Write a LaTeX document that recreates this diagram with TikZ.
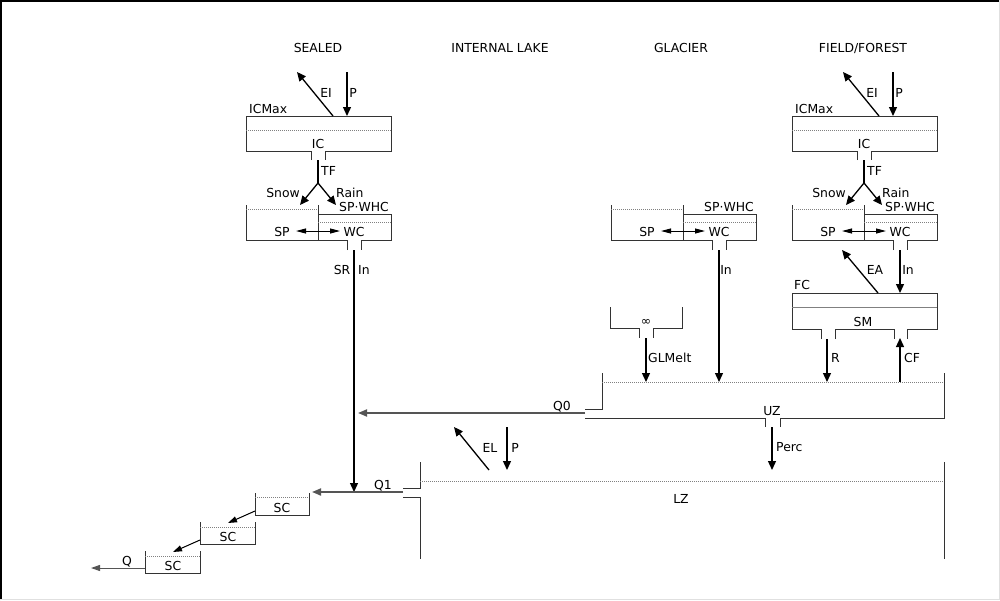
\documentclass[tikz,border=0pt]{standalone}
\usepackage{fontspec}
\setmainfont{DejaVu Sans}
\usetikzlibrary{
  arrows.meta,
  positioning,
  calc
}
\definecolor{wall}{HTML}{333333}
\definecolor{level}{HTML}{808080}
\definecolor{flowgray}{HTML}{555555}
\tikzset{
  base/.style={
    text=black,
    font=\fontsize{12.4}{14}\selectfont,
    inner sep=0pt,
  },
  wall/.style={
    draw=wall,
    line width=1pt,
  },
  level/.style={
    draw=level,
    line width=0.8pt,
    dash pattern=on 1pt off 1pt,
  },
  flux/.style={
    -{Triangle[length=9pt, width=8pt]},
    line width=1.3pt,
    draw=black,
  },
  fluxthin/.style={
    -{Triangle[length=9pt, width=6pt]},
    line width=1pt,
    draw=black,
  },
  fluxboth/.style={
    {Triangle[length=10pt, width=5pt]}-{Triangle[length=10pt, width=5pt]},
    line width=1pt,
    draw=black,
  },
  outflow/.style={
    -{Triangle[length=9pt, width=7pt]},
    line width=1.8pt,
    draw=flowgray,
  },
}
% interception store: #1 prefix, #2 centre x
\newcommand{\interception}[2]{%
  \draw[wall] (#2-7,160) -- (#2-7,151) -- (#2-72,151) -- (#2-72,116)
    -- (#2+73,116) -- (#2+73,151) -- (#2+7,151) -- (#2+7,160);
  \draw[level] (#2-72,130) -- (#2+73,130);
  \node[base, anchor=west] (#1icmax) at (#2-69,109) {ICMax};
  \node[base] (#1ic) at (#2,144) {IC};
  \coordinate (#1ictop) at (#2+15,116);
  \coordinate (#1eiend) at (#2-21,72);
  \coordinate (#1pstart) at (#2+29,72);
  \coordinate (#1pend) at (#2+29,116);
  \draw[flux] (#1ictop) -- (#1eiend);
  \draw[flux] (#1pstart) -- (#1pend);
  \node[base] (#1ei) at (#2+8,93) {EI};
  \node[base] (#1p) at (#2+35,93) {P};
  \coordinate (#1tf) at (#2,160);
  \coordinate (#1fork) at (#2,183);
  \coordinate (#1snowend) at (#2-18,205);
  \coordinate (#1rainend) at (#2+18,205);
  \draw[line width=1.3pt] (#1tf) -- (#1fork);
  \draw[flux] (#1fork) -- (#1snowend);
  \draw[flux] (#1fork) -- (#1rainend);
  \node[base, anchor=west] (#1tflab) at (#2+3,171) {TF};
  \node[base, anchor=east] (#1snow) at (#2-18,193) {Snow};
  \node[base, anchor=west] (#1rain) at (#2+18,193) {Rain};
}
% snow pack with water content: #1 prefix, #2 divider x
\newcommand{\snowpack}[2]{%
  \draw[wall] (#2-72,205) -- (#2-72,240) -- (#2,240);
  \draw[wall] (#2,205) -- (#2,214);
  \draw[level] (#2-72,209.5) -- (#2,209.5);
  \draw[wall] (#2+29,250) -- (#2+29,240) -- (#2,240) -- (#2,214)
    -- (#2+73,214) -- (#2+73,240) -- (#2+43,240) -- (#2+43,250);
  \draw[level] (#2,222) -- (#2+73,222);
  \node[base] (#1sp) at (#2-36,232) {SP};
  \node[base] (#1wc) at (#2+36,232) {WC};
  \node[base] (#1whc) at (#2+46,207) {SP·WHC};
  \coordinate (#1spe) at (#2-22,231);
  \coordinate (#1wcw) at (#2+22,231);
  \draw[fluxboth] (#1spe) -- (#1wcw);
  \coordinate (#1out) at (#2+36,250);
}

\begin{document}
\begin{tikzpicture}[x=1pt, y=-1pt]
\useasboundingbox (0,0) rectangle (1000,600);
\draw[black, line width=1.5pt] (0.75,600) -- (0.75,0.75) -- (1000,0.75);
\draw[black!12, line width=1pt] (999.5,0) -- (999.5,599.5) -- (0,599.5);

% === Column headings ===

\node[base] (hsealed) at (318,48) {SEALED};
\node[base] (hlake) at (500,48) {INTERNAL LAKE};
\node[base] (hglacier) at (681,48) {GLACIER};
\node[base] (hfield) at (863,48) {FIELD/FOREST};

% === Interception and snow ===

\interception{se}{318}
\interception{ff}{864}

\snowpack{se}{318}
\snowpack{gl}{683}
\snowpack{ff}{864}

% Sealed runoff straight to Q1
\coordinate (q1sr) at (354,492);
\draw[flux] (seout) -- (q1sr);
\node[base] (sesr) at (342,270) {SR};
\node[base] (sein) at (364,270) {In};

% Glacier melt water
\coordinate (uzgl) at (719,382);
\draw[flux] (glout) -- (uzgl);
\node[base] (glin) at (726,270) {In};

\draw[wall] (610,307) -- (610,328) -- (639,328) -- (639,338);
\draw[wall] (682,307) -- (682,328) -- (653,328) -- (653,338);
\node[base] (glinf) at (646,322) {∞};
\coordinate (glmelt) at (646,338);
\coordinate (uzmelt) at (646,382);
\draw[flux] (glmelt) -- (uzmelt);
\node[base, anchor=west] (glmeltlab) at (648,358) {GLMelt};

% === Soil moisture (field/forest) ===

\draw[wall] (821,339) -- (821,329) -- (792,329) -- (792,293)
  -- (937,293) -- (937,329) -- (907,329) -- (907,339);
\draw[wall] (835,339) -- (835,329) -- (894,329) -- (894,339);
\draw[draw=level, line width=0.8pt] (792,307) -- (937,307);
\node[base, anchor=west] (fc) at (794,285) {FC};
\node[base] (sm) at (863,322) {SM};

\coordinate (smin) at (900,293);
\draw[flux] (ffout) -- (smin);
\node[base] (ffin) at (908,270) {In};

\coordinate (smtop) at (878,293);
\coordinate (eaend) at (842,250);
\draw[flux] (smtop) -- (eaend);
\node[base] (ea) at (875,270) {EA};

\coordinate (smr) at (827,339);
\coordinate (uzr) at (827,382);
\draw[flux] (smr) -- (uzr);
\node[base, anchor=west] (rlab) at (831,358) {R};

\coordinate (uzcf) at (900,382);
\coordinate (smcf) at (900,338);
\draw[flux] (uzcf) -- (smcf);
\node[base, anchor=west] (cflab) at (904,358) {CF};

% === Upper zone ===

\draw[wall] (585,409) -- (602,409) -- (602,373);
\draw[wall] (944,373) -- (944,418) -- (780,418) -- (780,427);
\draw[wall] (585,418) -- (765,418) -- (765,427);
\draw[level] (602,382) -- (944,382);
\node[base] (uz) at (772,411) {UZ};

\coordinate (uzq0) at (585,413);
\coordinate (srq0) at (358,413);
\draw[outflow] (uzq0) -- (srq0);
\node[base] (q0) at (562,407) {Q0};

\coordinate (uzperc) at (772,427);
\coordinate (lzperc) at (772,470);
\draw[flux] (uzperc) -- (lzperc);
\node[base, anchor=west] (perc) at (776,447) {Perc};

% === Lower zone (internal lake) ===

\draw[wall] (403,488) -- (420,488) -- (420,462);
\draw[wall] (403,497) -- (420,497) -- (420,559);
\draw[wall] (944,462) -- (944,559);
\draw[level] (420,481) -- (944,481);
\node[base] (lz) at (681,499) {LZ};

\coordinate (lzel) at (489,470);
\coordinate (elend) at (454,427);
\draw[flux] (lzel) -- (elend);
\node[base] (el) at (490,448) {EL};

\coordinate (lzpstart) at (507,427);
\coordinate (lzpend) at (507,470);
\draw[flux] (lzpstart) -- (lzpend);
\node[base] (lzp) at (515,448) {P};

\coordinate (lzq1) at (403,492);
\coordinate (scin) at (312,492);
\draw[outflow] (lzq1) -- (scin);
\node[base] (q1) at (383,486) {Q1};

% === Routing cascade ===

\draw[wall] (255,493) -- (255,515) -- (309,515) -- (309,493);
\draw[level] (255,497) -- (309,497);
\node[base] (sc1) at (282,508) {SC};

\draw[wall] (200,522) -- (200,544) -- (255,544) -- (255,522);
\draw[level] (200,527) -- (255,527);
\node[base] (sc2) at (228,537) {SC};

\draw[wall] (145,551) -- (145,573) -- (200,573) -- (200,551);
\draw[level] (145,556) -- (200,556);
\node[base] (sc3) at (173,566) {SC};

\coordinate (sc1out) at (255,511);
\coordinate (sc2in) at (228,523);
\draw[fluxthin] (sc1out) -- (sc2in);
\coordinate (sc2out) at (200,540);
\coordinate (sc3in) at (173,552);
\draw[fluxthin] (sc2out) -- (sc3in);
\coordinate (sc3out) at (145,568);
\coordinate (qend) at (91,568);
\draw[fluxthin, draw=flowgray] (sc3out) -- (qend);
\node[base] (q) at (127,562) {Q};

\end{tikzpicture}
\end{document}
